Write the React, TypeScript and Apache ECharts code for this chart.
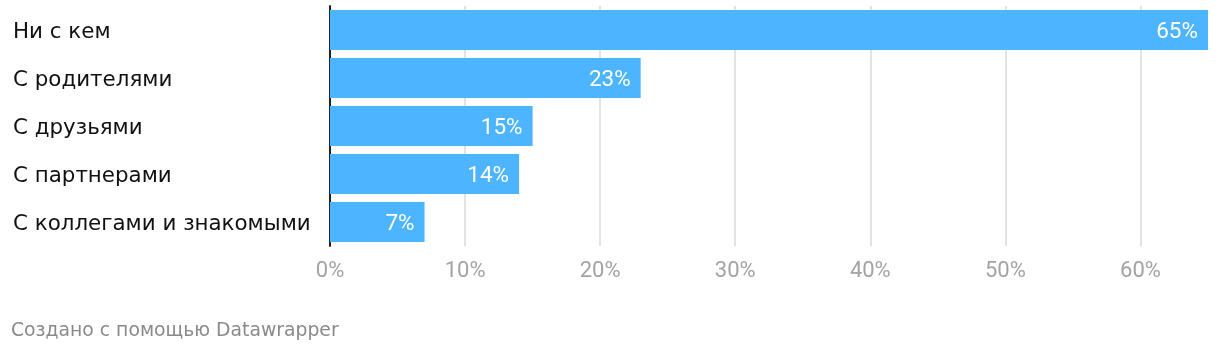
import React, { useEffect, useRef } from "react";
import * as echarts from "echarts";

const categories = ["Ни с кем", "С родителями", "С друзьями", "С партнерами", "С коллегами и знакомыми"];
const values = [65, 23, 15, 14, 7];
const tickValues = [0, 10, 20, 30, 40, 50, 60];
const footerText = "Создано с помощью Datawrapper";

export default function App() {
  const ref = useRef<HTMLDivElement>(null);
  useEffect(() => {
    const chart = echarts.init(ref.current!, null, { renderer: "svg" });
    chart.setOption({
      animation: false,
      textStyle: { fontFamily: "Roboto" },
      grid: { left: 330, right: 12, top: 6, height: 240 },
      xAxis: {
        type: "value",
        min: 0,
        max: 65,
        interval: 10,
        axisLine: { show: false },
        axisTick: { show: false },
        splitLine: { showMaxLine: false, lineStyle: { color: "#e3e3e3", width: 2 } },
        axisLabel: {
          color: "#a3a3a3",
          fontSize: 22,
          margin: 12,
          showMaxLabel: false,
          formatter: (v: number) => (tickValues.includes(v) ? v + "%" : ""),
        },
      },
      yAxis: {
        type: "category",
        data: categories,
        inverse: true,
        axisTick: { show: false },
        axisLine: { lineStyle: { color: "#222", width: 2 } },
        axisLabel: {
          color: "#111",
          fontSize: 21.4,
          fontFamily: "DejaVu Sans",
          align: "left",
          margin: 317,
        },
      },
      series: [
        {
          type: "bar",
          data: values,
          barCategoryGap: "16.7%",
          itemStyle: { color: "#4db4ff" },
          label: {
            show: true,
            position: "insideRight",
            distance: 10,
            color: "#fff",
            fontSize: 22.5,
            formatter: "{c}%",
          },
        },
      ],
      graphic: [
        {
          type: "text",
          left: 11,
          top: 320,
          style: { text: footerText, fill: "#8a8a8a", fontSize: 18.8, fontFamily: "DejaVu Sans" },
        },
      ],
    });
    return () => chart.dispose();
  }, []);
  return <div ref={ref} style={{ position: "fixed", left: 0, top: 0, width: 1220, height: 354 }} />;
}
